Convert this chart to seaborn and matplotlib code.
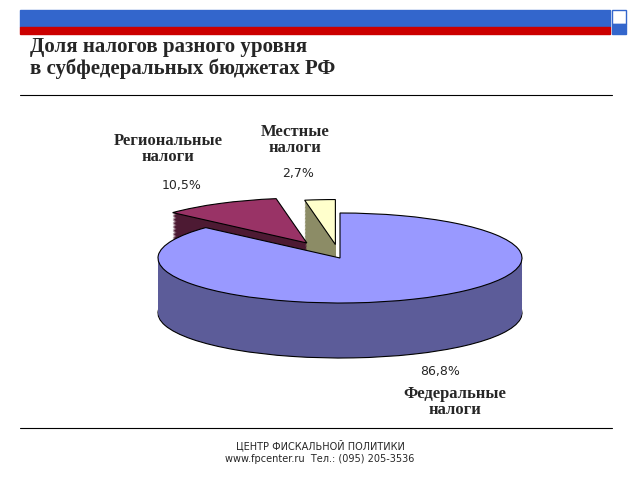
import matplotlib.pyplot as plt
import seaborn as sns
from matplotlib.patches import Rectangle

sns.set_theme(style="white")
plt.rcParams['font.family'] = ['DejaVu Sans']

# данные
labels = ["Местные\nналоги", "Региональные\nналоги", "Федеральные\nналоги"]
shares = [2.7, 10.5, 86.8]
top_colors = ["#FFFFCC", "#993366", "#9999FF"]
side_colors = ["#8C8C66", "#4D1A33", "#5C5C99"]
explode = [0.3, 0.38, 0.0]

W, H = 640, 480
fig = plt.figure(figsize=(6.4, 4.8), dpi=100)
fig.patch.set_facecolor("white")


def px(x, y):
    return x / W, 1 - y / H


# шапка
deco = fig.add_axes([0, 0, 1, 1], zorder=0)
deco.set_xlim(0, W)
deco.set_ylim(H, 0)
deco.axis("off")
deco.add_patch(Rectangle((20, 10), 590, 17, color="#3366CC"))
deco.add_patch(Rectangle((20, 27), 590, 7, color="#CC0000"))
deco.add_patch(Rectangle((612, 10), 14, 14, facecolor="white", edgecolor="#3366CC"))
deco.add_patch(Rectangle((612, 24), 14, 10, color="#3366CC"))
deco.plot([20, 612], [95, 95], color="black", lw=0.8)
deco.plot([20, 612], [428, 428], color="black", lw=0.8)

fig.text(*px(30, 58), "Доля налогов разного уровня\nв субфедеральных бюджетах РФ",
         family="Liberation Serif", fontsize=15, fontweight="bold",
         va="center", ha="left", linespacing=1.15)
fig.text(*px(320, 445), "ЦЕНТР ФИСКАЛЬНОЙ ПОЛИТИКИ", fontsize=7, ha="center", va="center")
fig.text(*px(320, 459), "www.fpcenter.ru  Тел.: (095) 205-3536", fontsize=7, ha="center", va="center")

# псевдо-3D круговая диаграмма
rx, ry = 182, 45
cx, cy = 340, 258
left, right, top, bottom = 130, 550, 180, 370
ax = fig.add_axes([left / W, 1 - bottom / H, (right - left) / W, (bottom - top) / H], zorder=1)

depth = 55 / ry
n = 40


def layer(d, colors, edge, idx):
    wedges, _ = ax.pie(shares, colors=colors, startangle=90, counterclock=True,
                       explode=explode, center=(0, -d), radius=1.0,
                       wedgeprops=dict(linewidth=0.8 if edge else 0, edgecolor="black"),
                       frame=True)
    for j, w in enumerate(wedges):
        if j not in idx:
            w.remove()


small = [0, 1]
big = [2]
for idx in (small, big):
    for i in range(n, 0, -1):
        layer(depth * i / n, side_colors, i == n, idx)
    layer(0, top_colors, True, idx)

ax.set_xlim(-(cx - left) / rx, (right - cx) / rx)
ax.set_ylim(-(bottom - cy) / ry, (cy - top) / ry)
ax.set_aspect("auto")
ax.axis("off")

# подписи
label_pos = [(295, 140), (168, 149), (455, 402)]
pct_pos = [(298, 173), (182, 185), (440, 372)]
for lab, val, (lx, ly), (vx, vy) in zip(labels, shares, label_pos, pct_pos):
    fig.text(*px(lx, ly), lab, family="Liberation Serif", fontsize=12,
             fontweight="bold", ha="center", va="center", linespacing=1.05)
    fig.text(*px(vx, vy), f"{val:.1f}%".replace(".", ","), fontsize=9,
             ha="center", va="center")

fig.savefig("out.png", dpi=100)
